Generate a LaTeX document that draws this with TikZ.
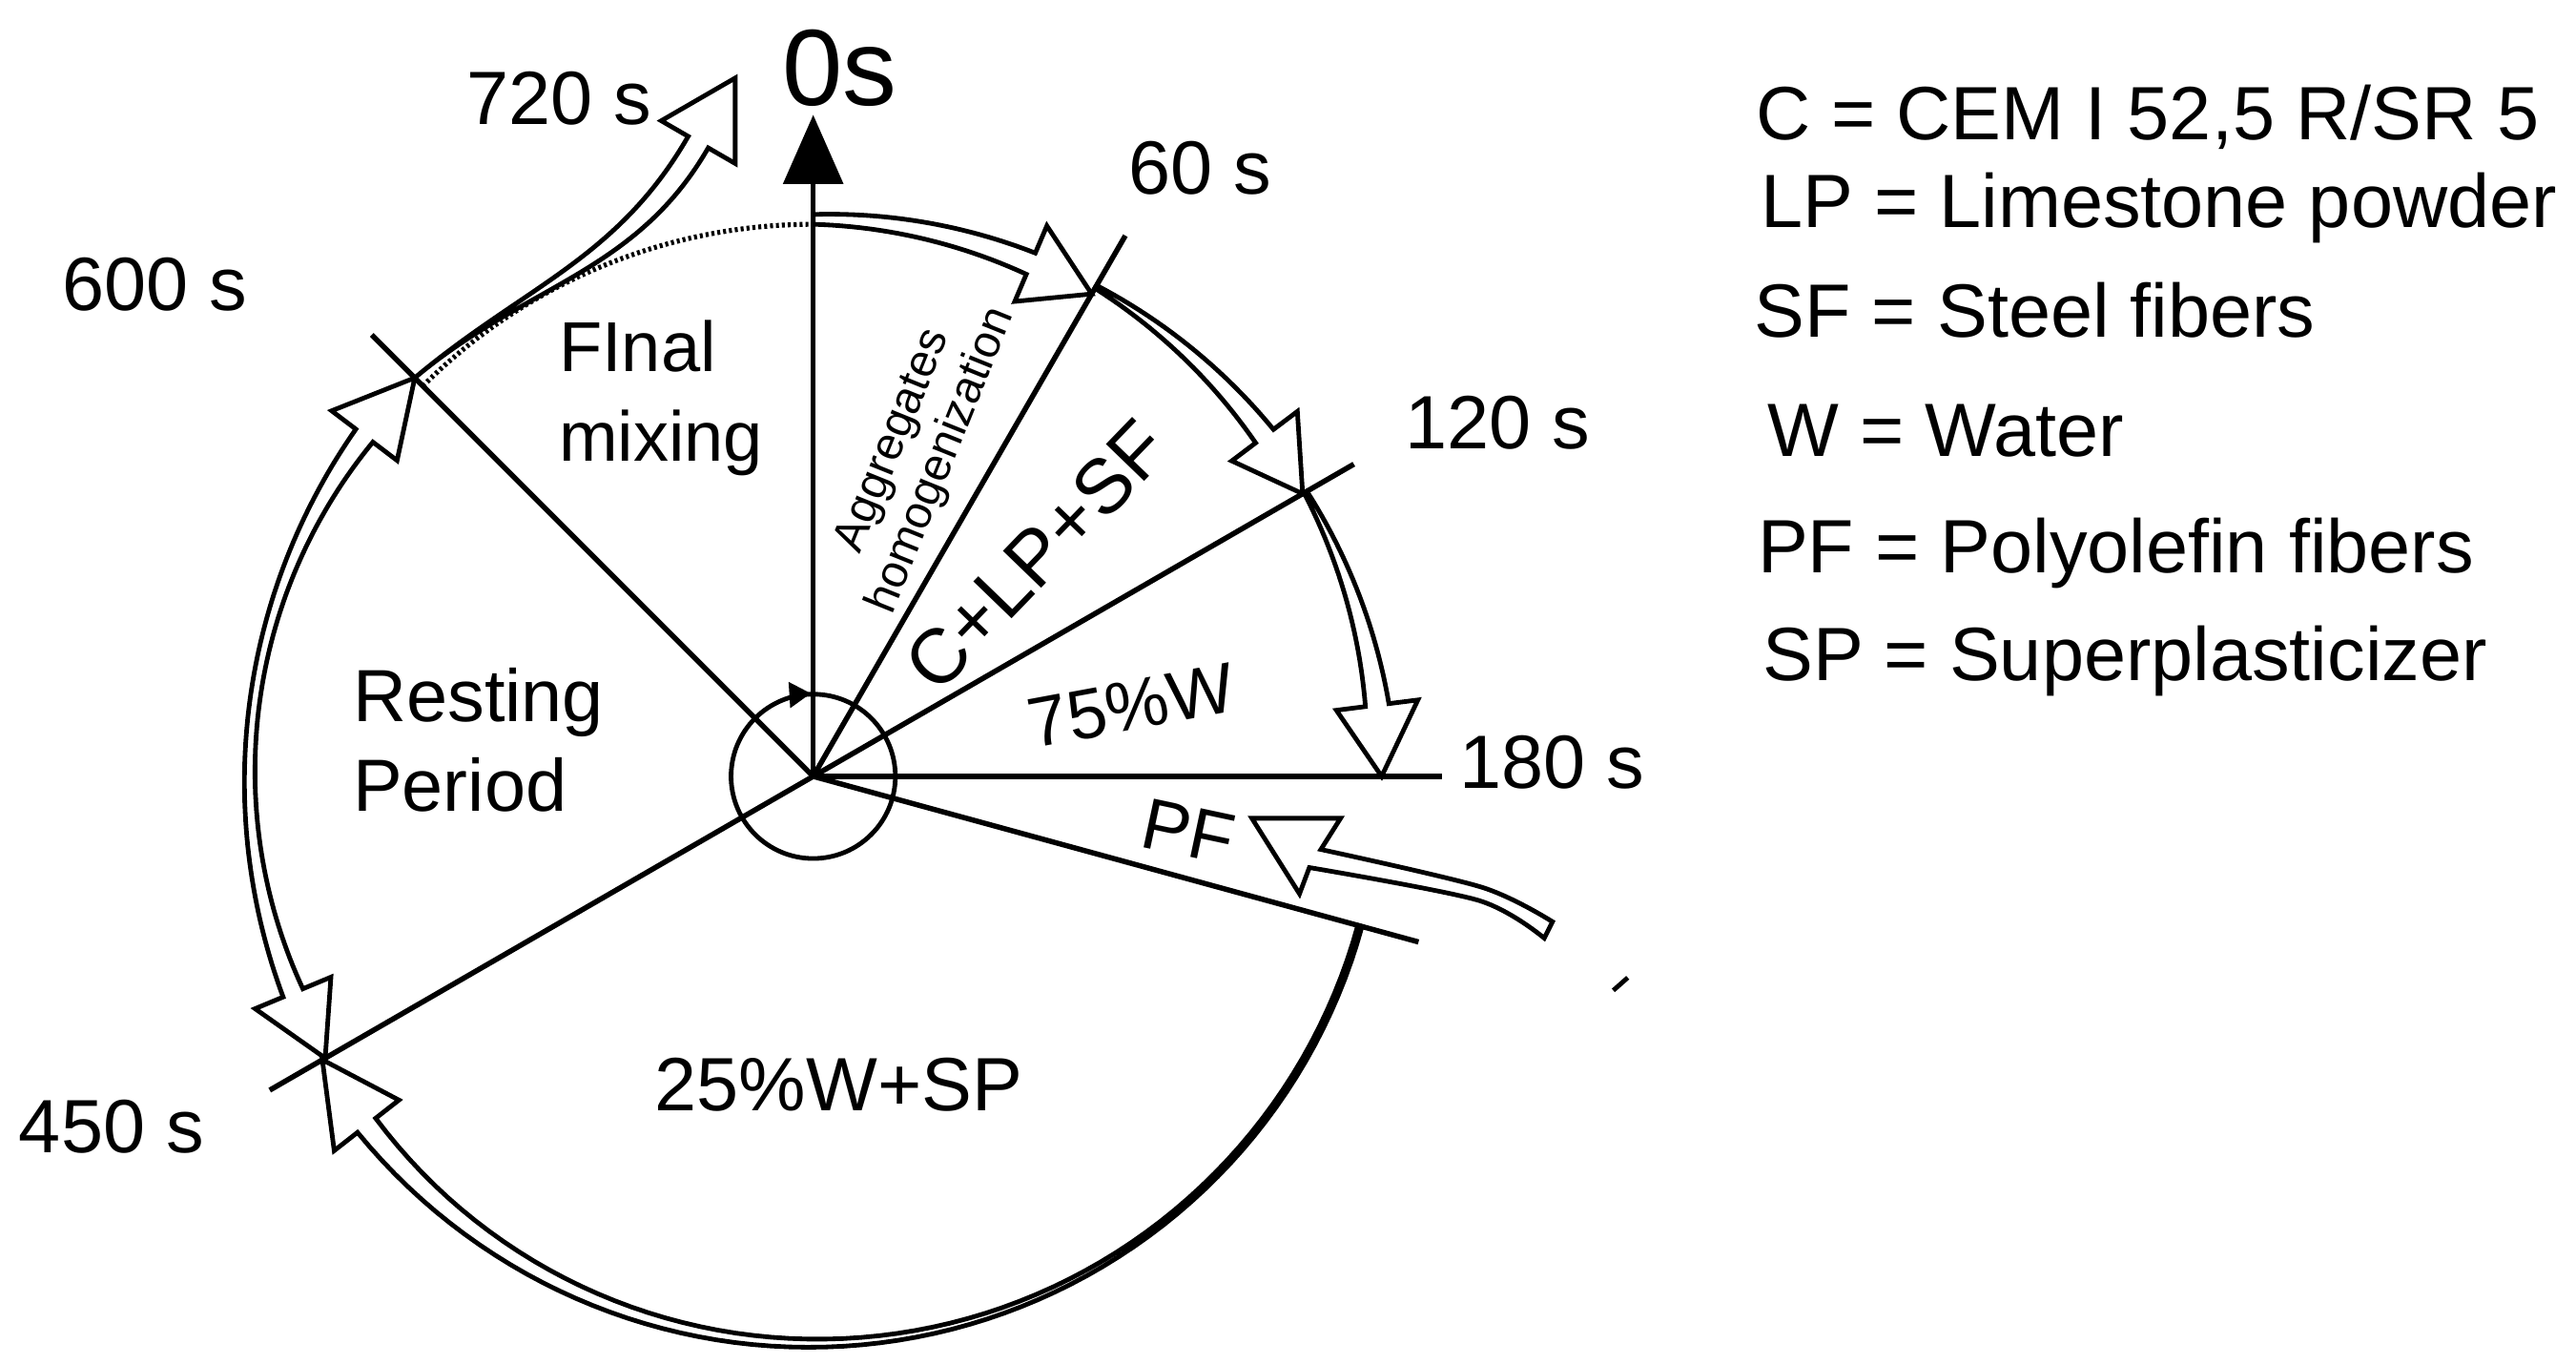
\documentclass[tikz,border=0pt]{standalone}
\usepackage{fontspec}
\setmainfont{Liberation Sans}
\usetikzlibrary{calc}
% #1 radius, #2 tail angle, #3 head-base angle, #4 tip angle, #5 tail half-width, #6 head half-width, #7 taper function
\newcommand\hollowarc[7]{%
  \draw[arr] plot[domain=#2:#3, samples=70]
      ({(#1+#5+(#6-#5)*#7((\x-(#2))/((#3)-(#2))))*cos(\x)},{(#1+#5+(#6-#5)*#7((\x-(#2))/((#3)-(#2))))*sin(\x)})
    -- ({(#1+25)*cos(#3)},{(#1+25)*sin(#3)})
    -- ({#1*cos(#4)},{#1*sin(#4)})
    -- ({(#1-25)*cos(#3)},{(#1-25)*sin(#3)})
    -- plot[domain=#3:#2, samples=70]
      ({(#1-#5-(#6-#5)*#7((\x-(#2))/((#3)-(#2))))*cos(\x)},{(#1-#5-(#6-#5)*#7((\x-(#2))/((#3)-(#2))))*sin(\x)})
    -- cycle;}
\begin{document}
\begin{tikzpicture}[x=1pt,y=1pt,
  declare function={lin(\u)=\u; quad(\u)=\u*\u; cub(\u)=\u*\u*\u;},
  spoke/.style={line width=3.2pt},
  arr/.style={line width=2.8pt, line join=miter, miter limit=6},
  txt/.style={inner sep=0pt, font=\fontsize{46}{55}\selectfont},
]
\useasboundingbox (-495,-357.5) rectangle (1073,472.5);
\coordinate (C) at (0,0);
% spoke ends
\coordinate (top) at (0,360.5);
\coordinate (s60) at (60:380);
\coordinate (s120) at (30:380);
\coordinate (s180) at (0:383);
\coordinate (spf) at (-15.3:382);
\coordinate (s450) at (210:382);
\coordinate (s600) at (135:380);
% spokes
\draw[spoke] (C) -- (top);
\fill (-18.5,360.5) -- (18.5,360.5) -- (0,402.5) -- cycle;
\draw[spoke] (C) -- (s60);
\draw[spoke] (C) -- (s120);
\draw[spoke,line width=3.6pt] (C) -- (s180);
\draw[spoke] (C) -- (spf);
\draw[spoke] (C) -- (s450);
\draw[spoke] (C) -- (s600);
% small circle with arrow
\draw[line width=2.8pt] (C) circle[radius=50];
\fill (-1.5,50.5) -- (-15,57.5) -- (-14,41.5) -- cycle;
% dotted arc
\draw[line width=3pt, dash pattern=on 1.8pt off 1.8pt] (135:336) arc[start angle=135, end angle=90, radius=336];
% arrows around the circle
\hollowarc{339}{90}{67}{60}{3}{7}{lin}
\hollowarc{344}{60}{37}{30}{1}{6.8}{lin}
\hollowarc{346}{30}{7.2}{0}{1}{7.2}{lin}
\hollowarc{345}{-15.3}{-142}{-150}{1.3}{7}{cub}
% double headed arrow 450 s <-> 600 s
\draw[arr] plot[domain=142.8:202.6, samples=70]
    ({(343+3+3.5*quad((\x-172.7)/29.9))*cos(\x)},{(343+3+3.5*quad((\x-172.7)/29.9))*sin(\x)})
  -- ({368*cos(202.6)},{368*sin(202.6)}) -- (210:343) -- ({318*cos(202.6)},{318*sin(202.6)})
  -- plot[domain=202.6:142.8, samples=70]
    ({(343-3-3.5*quad((\x-172.7)/29.9))*cos(\x)},{(343-3-3.5*quad((\x-172.7)/29.9))*sin(\x)})
  -- ({318*cos(142.8)},{318*sin(142.8)}) -- (135:343) -- ({368*cos(142.8)},{368*sin(142.8)}) -- cycle;
% arrow 600 s -> 720 s
\coordinate (f0) at (135:343);
\coordinate (fl) at (-76.1,389.5);
\coordinate (fr) at (-63.9,382.5);
\draw[arr] (f0) to[out=40,in=240] (fl) -- (-92.5,399) -- (-47.5,425) -- (-47.5,373) -- (fr) to[out=240,in=40] (f0);
% PF arrow
\draw[arr] plot[smooth] coordinates {(450,-88.5) (407,-67.5) (309,-44.5)} -- (321,-25.5) -- (267,-25.5) -- (296,-71.5)
  -- plot[smooth] coordinates {(302,-55.5) (405,-75.5) (445,-98.5)} -- cycle;
% stray mark
\draw[line width=2.8pt] (487,-130.3) -- (495.8,-122.5);
% time labels
\node[txt, anchor=base west, font=\fontsize{66}{70}\selectfont] (t0) at (-19,408.6) {0s};
\node[txt, anchor=base west] (t720) at (-211,397) {720 s};
\node[txt, anchor=base west] (t60) at (192,354.5) {60 s};
\node[txt, anchor=base west] (t120) at (360,199.5) {120 s};
\node[txt, anchor=base west] (t180) at (393,-7.5) {180 s};
\node[txt, anchor=base west] (t600) at (-457,283.8) {600 s};
\node[txt, anchor=base west] (t450) at (-483.6,-229) {450 s};
% sector labels
\node[txt, anchor=base west, font=\fontsize{43}{50}\selectfont] (fin1) at (-155,246.5) {FInal};
\node[txt, anchor=base west, font=\fontsize{43}{50}\selectfont] (fin2) at (-155,191.7) {mixing};
\node[txt, anchor=base west, font=\fontsize{45}{52}\selectfont] (rest1) at (-280.3,33.3) {Resting};
\node[txt, anchor=base west, font=\fontsize{45}{52}\selectfont] (rest2) at (-280.3,-21.5) {Period};
\node[txt, anchor=base] (w25) at (15.5,-203.8) {25\%W+SP};
\node[txt, anchor=base, rotate=10.5, font=\fontsize{43}{50}\selectfont] (w75) at (196.3,28.4) {75\%W};
\node[txt, anchor=center, rotate=46, font=\fontsize{47}{55}\selectfont] (clp) at (135.8,134.3) {C+LP+SF};
\node[txt, anchor=center, rotate=68, align=center, font=\fontsize{28}{32}\selectfont] (agg) at (64,198) {Aggregates\\homogenization};
\node[txt, anchor=center, rotate=-12, font=\fontsize{44}{50}\selectfont] (pf) at (228.5,-33.5) {PF};
% legend
\node[txt, anchor=base west] (l1) at (573.7,387.3) {C = CEM I 52,5 R/SR 5};
\node[txt, anchor=base west] (l2) at (576.6,334.1) {LP = Limestone powder};
\node[txt, anchor=base west] (l3) at (572.8,267) {SF = Steel fibers};
\node[txt, anchor=base west] (l4) at (581,194.7) {W = Water};
\node[txt, anchor=base west] (l5) at (574.7,123.9) {PF = Polyolefin fibers};
\node[txt, anchor=base west] (l6) at (577.7,58.5) {SP = Superplasticizer};
\end{tikzpicture}
\end{document}
